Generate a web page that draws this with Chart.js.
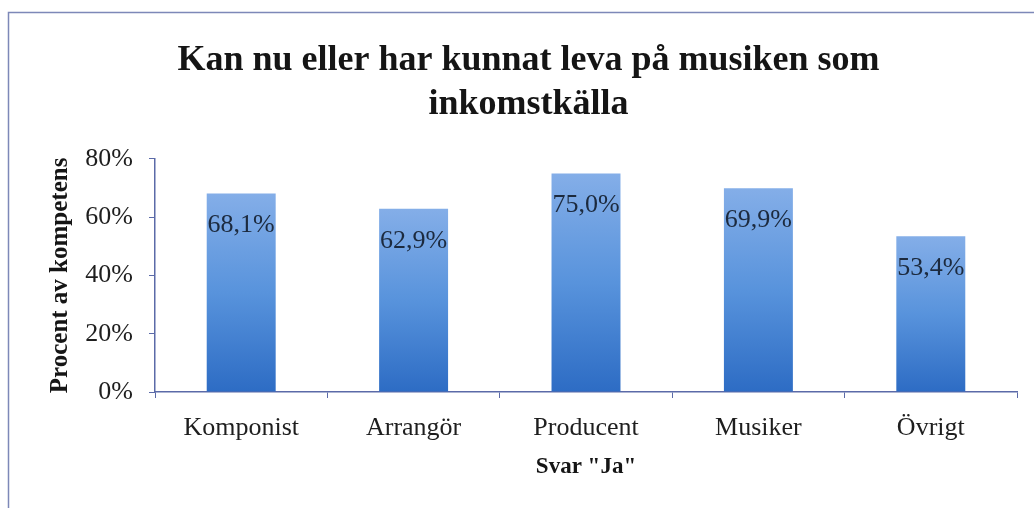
<!DOCTYPE html>
<html>
<head>
<meta charset="utf-8">
<script src="https://cdn.jsdelivr.net/npm/chart.js@4.4.1/dist/chart.umd.min.js"></script>
<style>
  html, body { margin: 0; padding: 0; background: #ffffff; }
  #wrap { position: relative; width: 1034px; height: 508px; }
</style>
</head>
<body>
<div id="wrap"><canvas id="chart-bar-1" width="1034" height="508"></canvas></div>
<script>
var categories = ["Komponist", "Arrangör", "Producent", "Musiker", "Övrigt"];
var jaValues = [68.1, 62.9, 75.0, 69.9, 53.4];
var yTicks = [0, 20, 40, 60, 80];

var axisColor = '#5b6aa8';
var serif = "'Liberation Serif', 'Times New Roman', serif";

// frame around the chart (only left and top edges are visible in the original)
var framePlugin = {
    id: 'frame',
    beforeDraw: function (chart) {
        var c = chart.ctx;
        c.save();
        c.strokeStyle = '#7d88b8';
        c.lineWidth = 1.5;
        c.beginPath();
        c.moveTo(8.5, chart.height);
        c.lineTo(8.5, 12.5);
        c.lineTo(chart.width, 12.5);
        c.stroke();
        c.restore();
    }
};

// value labels inside top of bars, "68,1%"
var valueLabels = {
    id: 'valueLabels',
    afterDatasetsDraw: function (chart) {
        var c = chart.ctx;
        var meta = chart.getDatasetMeta(0);
        c.save();
        c.font = "26px " + serif;
        c.fillStyle = '#1c2a3e';
        c.textAlign = 'center';
        c.textBaseline = 'middle';
        meta.data.forEach(function (bar, i) {
            var txt = jaValues[i].toFixed(1).replace('.', ',') + '%';
            c.fillText(txt, bar.x, bar.y + 32);
        });
        c.restore();
    }
};

function barGradient(context) {
    var chart = context.chart;
    if (!chart.chartArea) return '#4a86d0';
    var y = chart.scales.y;
    var top = y.getPixelForValue(jaValues[context.dataIndex]);
    var bottom = y.getPixelForValue(0);
    var g = chart.ctx.createLinearGradient(0, top, 0, bottom);
    g.addColorStop(0, '#84aee8');
    g.addColorStop(0.5, '#5893dc');
    g.addColorStop(1, '#2d6cc4');
    return g;
}

var ctx = document.getElementById('chart-bar-1').getContext('2d');
var myBarChart = new Chart(ctx, {
    type: 'bar',
    data: {
        labels: categories,
        datasets: [{
            data: jaValues,
            backgroundColor: barGradient,
            borderWidth: 0,
            barPercentage: 0.8,
            categoryPercentage: 0.5
        }]
    },
    plugins: [framePlugin, valueLabels],
    options: {
        responsive: false,
        animation: false,
        layout: { padding: { left: 40, right: 17, top: 0, bottom: 16 } },
        plugins: {
            legend: { display: false },
            tooltip: { enabled: false },
            title: {
                display: true,
                text: ["Kan nu eller har kunnat leva på musiken som", "inkomstkälla"],
                color: '#151515',
                font: { family: serif, size: 36, weight: 'bold', lineHeight: 1.22 },
                padding: { top: 39, bottom: 32 }
            }
        },
        scales: {
            x: {
                grid: {
                    display: true,
                    drawOnChartArea: false,
                    drawTicks: true,
                    tickLength: 6,
                    color: axisColor,
                    offset: true
                },
                border: { display: true, color: axisColor, width: 1.5 },
                ticks: {
                    color: '#1e1e1e',
                    padding: 15,
                    font: { family: serif, size: 26 }
                },
                title: {
                    display: true,
                    text: 'Svar "Ja"',
                    color: '#151515',
                    font: { family: serif, size: 23, weight: 'bold', lineHeight: 1.2 },
                    padding: { top: 0, bottom: 11 }
                },
                afterFit: function (scale) { scale.height = 100; }
            },
            y: {
                min: 0,
                max: 80,
                afterBuildTicks: function (scale) {
                    scale.ticks = yTicks.map(function (v) { return { value: v }; });
                },
                grid: {
                    display: true,
                    drawOnChartArea: false,
                    drawTicks: true,
                    tickLength: 6,
                    color: axisColor
                },
                border: { display: true, color: axisColor, width: 1.5 },
                ticks: {
                    color: '#1e1e1e',
                    padding: 16,
                    font: { family: serif, size: 26 },
                    callback: function (v) { return v + '%'; }
                },
                title: {
                    display: true,
                    text: 'Procent av kompetens',
                    color: '#151515',
                    font: { family: serif, size: 25, weight: 'bold', lineHeight: 1.2 },
                    padding: { top: 6, bottom: 0 }
                },
                afterFit: function (scale) { scale.width = 115; }
            }
        }
    }
});
</script>
</body>
</html>
